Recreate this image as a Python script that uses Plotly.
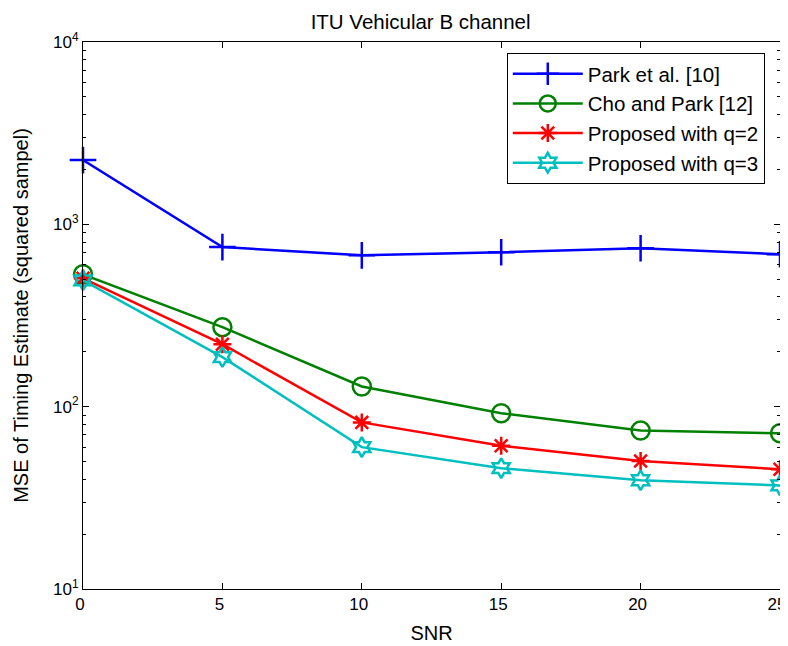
import plotly.graph_objects as go

snr = [0, 5, 10, 15, 20, 25]
park = [2250, 750, 676, 703, 740, 686]
cho = [532, 273, 129, 92, 74, 71.5]
prop_q2 = [506, 220, 82, 61, 50.3, 45.4]
prop_q3 = [493, 187, 60, 46, 39.5, 37]
x_ticks = [0, 5, 10, 15, 20, 25]
y_ticks = [10, 100, 1000, 10000]
y_ticktext = ["10<sup>1</sup>", "10<sup>2</sup>", "10<sup>3</sup>", "10<sup>4</sup>"]

series = [
    ("Park et al. [10]", park, "#0000FF", "cross-thin-open", 19),
    ("Cho and Park [12]", cho, "#008000", "circle-open", 18),
    ("Proposed with q=2", prop_q2, "#FF0000", "asterisk-open", 15),
    ("Proposed with q=3", prop_q3, "#00BFBF", "hexagram-open", 15),
]

fig = go.Figure()
for name, ys, col, sym, sz in series:
    fig.add_trace(go.Scatter(
        x=snr, y=ys, name=name, mode="lines+markers", cliponaxis=False,
        line=dict(color=col, width=2.5),
        marker=dict(symbol=sym, size=sz, color=col, line=dict(color=col, width=2.5)),
    ))

font = "Liberation Sans, Arial, sans-serif"
# page body has an 8px margin, so the figure is 780x638 starting at (8, 8)
fig.update_layout(
    width=780, height=638,
    margin=dict(l=75, r=8, t=34, b=57, autoexpand=False),
    paper_bgcolor="white", plot_bgcolor="white",
    font=dict(family=font, size=17, color="black"),
    title=dict(text="ITU Vehicular B channel", x=0.529, xanchor="center",
               y=0.979, yanchor="middle", font=dict(size=20.5)),
    showlegend=True,
    legend=dict(x=0.608, y=0.98, xanchor="left", yanchor="top",
                bgcolor="white", bordercolor="black", borderwidth=1,
                font=dict(size=20.5), tracegroupgap=0, itemwidth=70),
)
fig.update_xaxes(
    range=[0, 25], tickvals=x_ticks, automargin=False,
    ticks="inside", ticklen=6, tickcolor="black", mirror="allticks",
    ticklabeloverflow="allow", ticklabelshift=-3,
    showline=True, linecolor="black", linewidth=1, showgrid=False, zeroline=False,
    title=dict(text="SNR", standoff=12), tickfont=dict(size=17),
)
fig.update_yaxes(
    type="log", range=[1, 4], automargin=False,
    tickvals=y_ticks, ticktext=y_ticktext,
    ticks="inside", ticklen=6, tickcolor="black", mirror="allticks",
    minor=dict(ticks="inside", ticklen=3, tickcolor="black", dtick="D1"),
    showline=True, linecolor="black", linewidth=1, showgrid=False,
    title=dict(text="MSE of Timing Estimate (squared sampel)", standoff=19,
               font=dict(size=20)),
    tickfont=dict(size=17),
)
fig.write_html("out.html")
